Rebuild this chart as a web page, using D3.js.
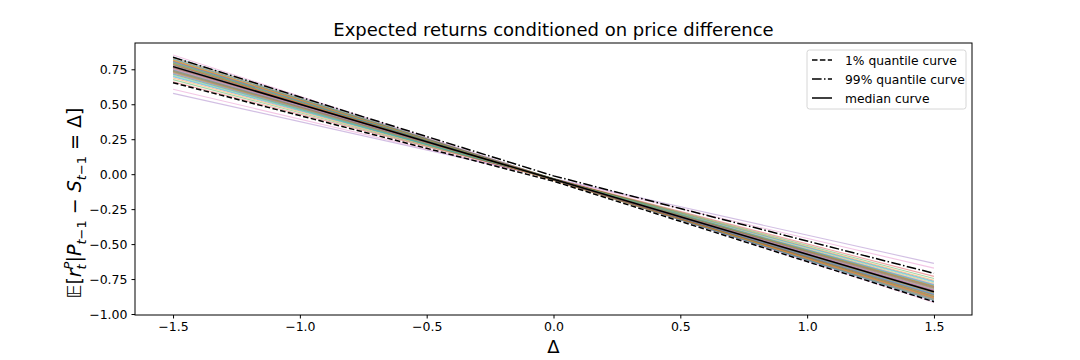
<!DOCTYPE html>
<meta charset="utf-8">

<style> /* set the CSS */

body { margin: 0; font-family: "DejaVu Sans", sans-serif; background: white; }

.axis text { font-family: "DejaVu Sans", sans-serif; font-size: 12.5px; fill: #000; }
.axis path, .axis line { stroke: #000; stroke-width: 1; }

.legend text { font-size: 12.3px; }

</style>
<body>

<!-- load the d3.js library -->
<script src="https://cdn.jsdelivr.net/npm/d3@7"></script>

<script>

// sample curves: value at delta = -1.5 and at delta = 1.5
var sampleStart = [0.838, 0.831, 0.822, 0.816, 0.578, 0.809, 0.852, 0.803, 0.797, 0.792,
                   0.786, 0.781, 0.776, 0.772, 0.767, 0.763, 0.607, 0.758, 0.754, 0.749,
                   0.745, 0.741, 0.737, 0.732, 0.728, 0.724, 0.719, 0.714, 0.709, 0.703,
                   0.697, 0.688, 0.676, 0.661, 0.800, 0.770, 0.755, 0.735, 0.815, 0.780,
                   0.826, 0.812, 0.794, 0.784, 0.774, 0.761, 0.751, 0.743, 0.729, 0.717,
                   0.806, 0.788];
var sampleEnd   = [-0.905, -0.899, -0.884, -0.889, -0.638, -0.876, -0.918, -0.871, -0.868, -0.858,
                   -0.861, -0.849, -0.852, -0.838, -0.841, -0.829, -0.672, -0.832, -0.819, -0.824,
                   -0.812, -0.815, -0.803, -0.806, -0.795, -0.799, -0.786, -0.789, -0.778, -0.771,
                   -0.765, -0.758, -0.746, -0.731, -0.880, -0.845, -0.828, -0.810, -0.895, -0.862,
                   -0.902, -0.886, -0.874, -0.866, -0.855, -0.836, -0.826, -0.818, -0.801, -0.792,
                   -0.892, -0.879];

// quantile / median curves on a grid of delta values
var deltas   = [-1.5, -1.0, -0.5, 0.0, 0.5, 1.0, 1.5];
var q01      = [0.654, 0.419, 0.185, -0.050, -0.337, -0.625, -0.912];
var q99      = [0.836, 0.552, 0.269, -0.012, -0.246, -0.478, -0.709];
var median   = [0.769, 0.500, 0.232, -0.036, -0.304, -0.573, -0.841];

var xTicks = [-1.5, -1.0, -0.5, 0.0, 0.5, 1.0, 1.5];
var yTicks = [-1.00, -0.75, -0.50, -0.25, 0.00, 0.25, 0.50, 0.75];

var legendLabels = ["1% quantile curve", "99% quantile curve", "median curve"];
var legendDash   = ["5.5,2.4", "9.6,2.4,1.5,2.4", null];

var palette = ["#1f77b4", "#ff7f0e", "#2ca02c", "#d62728", "#9467bd",
               "#8c564b", "#e377c2", "#7f7f7f", "#bcbd22", "#17becf"];

// set the dimensions and margins of the graph
var margin = {top: 43, right: 108, bottom: 45, left: 135},
    width = 1080 - margin.left - margin.right,
    height = 360 - margin.top - margin.bottom;

// set the ranges
var x = d3.scaleLinear()
          .domain([-1.65, 1.65])
          .range([0, width]);
var y = d3.scaleLinear()
          .domain([-1.007, 0.938])
          .range([height, 0]);

var svg = d3.select("body").append("svg")
    .attr("width", 1080)
    .attr("height", 360);

var g = svg.append("g")
    .attr("transform", "translate(" + margin.left + "," + margin.top + ")");

// sample lines
var samples = sampleStart.map(function(s, i) { return [[-1.5, s], [1.5, sampleEnd[i]]]; });

var line = d3.line()
    .x(function(d) { return x(d[0]); })
    .y(function(d) { return y(d[1]); });

g.selectAll(".sample")
    .data(samples)
  .enter().append("path")
    .attr("class", "sample")
    .attr("d", line)
    .attr("fill", "none")
    .attr("stroke", function(d, i) { return palette[i % palette.length]; })
    .attr("stroke-opacity", 0.42)
    .attr("stroke-width", 1.1);

// quantile and median curves
var curves = [q01, q99, median].map(function(vals) {
    return deltas.map(function(d, i) { return [d, vals[i]]; });
});

g.selectAll(".curve")
    .data(curves)
  .enter().append("path")
    .attr("class", "curve")
    .attr("d", line)
    .attr("fill", "none")
    .attr("stroke", "#000")
    .attr("stroke-width", 1.5)
    .attr("stroke-dasharray", function(d, i) { return legendDash[i]; });

// axes
g.append("g")
    .attr("class", "x axis")
    .attr("transform", "translate(0," + height + ")")
    .call(d3.axisBottom(x).tickValues(xTicks).tickFormat(d3.format(".1f")).tickSizeOuter(0).tickSize(3.5).tickPadding(4));

g.append("g")
    .attr("class", "y axis")
    .call(d3.axisLeft(y).tickValues(yTicks).tickFormat(d3.format(".2f")).tickSizeOuter(0).tickSize(3.5).tickPadding(4));

g.selectAll(".axis .domain").remove();

// frame
g.append("rect")
    .attr("width", width)
    .attr("height", height)
    .attr("fill", "none")
    .attr("stroke", "#000")
    .attr("stroke-width", 1);

// title
svg.append("text")
    .attr("x", margin.left + width / 2)
    .attr("y", 36)
    .attr("text-anchor", "middle")
    .style("font-size", "18px")
    .text("Expected returns conditioned on price difference");

// x label
svg.append("text")
    .attr("x", margin.left + width / 2)
    .attr("y", 353)
    .attr("text-anchor", "middle")
    .style("font-size", "18px")
    .text("Δ");

// y label (math)
var yl = svg.append("text")
    .attr("transform", "translate(81,203) rotate(-90)")
    .attr("text-anchor", "middle")
    .style("font-size", "19px");
yl.append("tspan").text("𝔼[");
yl.append("tspan").style("font-style", "italic").text("r");
yl.append("tspan").attr("dy", -8).style("font-size", "13px").style("font-style", "italic").text("P");
yl.append("tspan").attr("dx", -8).attr("dy", 13).style("font-size", "13px").style("font-style", "italic").text("t");
yl.append("tspan").attr("dx", 2).attr("dy", -5).text("|");
yl.append("tspan").style("font-style", "italic").text("P");
yl.append("tspan").attr("dy", 5).style("font-size", "13px").style("font-style", "italic").text("t");
yl.append("tspan").style("font-size", "13px").text("−1");
yl.append("tspan").attr("dy", -5).text(" − ");
yl.append("tspan").style("font-style", "italic").text("S");
yl.append("tspan").attr("dy", 5).style("font-size", "13px").style("font-style", "italic").text("t");
yl.append("tspan").style("font-size", "13px").text("−1");
yl.append("tspan").attr("dy", -5).text(" = Δ]");

// legend
var lg = svg.append("g")
    .attr("class", "legend")
    .attr("transform", "translate(807,50)");

lg.append("rect")
    .attr("width", 159)
    .attr("height", 59)
    .attr("rx", 2.5)
    .attr("fill", "white")
    .attr("fill-opacity", 0.8)
    .attr("stroke", "#d6d6d6");

legendLabels.forEach(function(lab, i) {
    var yy = 10 + i * 19;
    lg.append("line")
        .attr("x1", 5).attr("x2", 25)
        .attr("y1", yy).attr("y2", yy)
        .attr("stroke", "#000")
        .attr("stroke-width", 1.5)
        .attr("stroke-dasharray", legendDash[i]);
    lg.append("text")
        .attr("x", 38)
        .attr("y", yy + 4.5)
        .text(lab);
});

</script>
</body>
